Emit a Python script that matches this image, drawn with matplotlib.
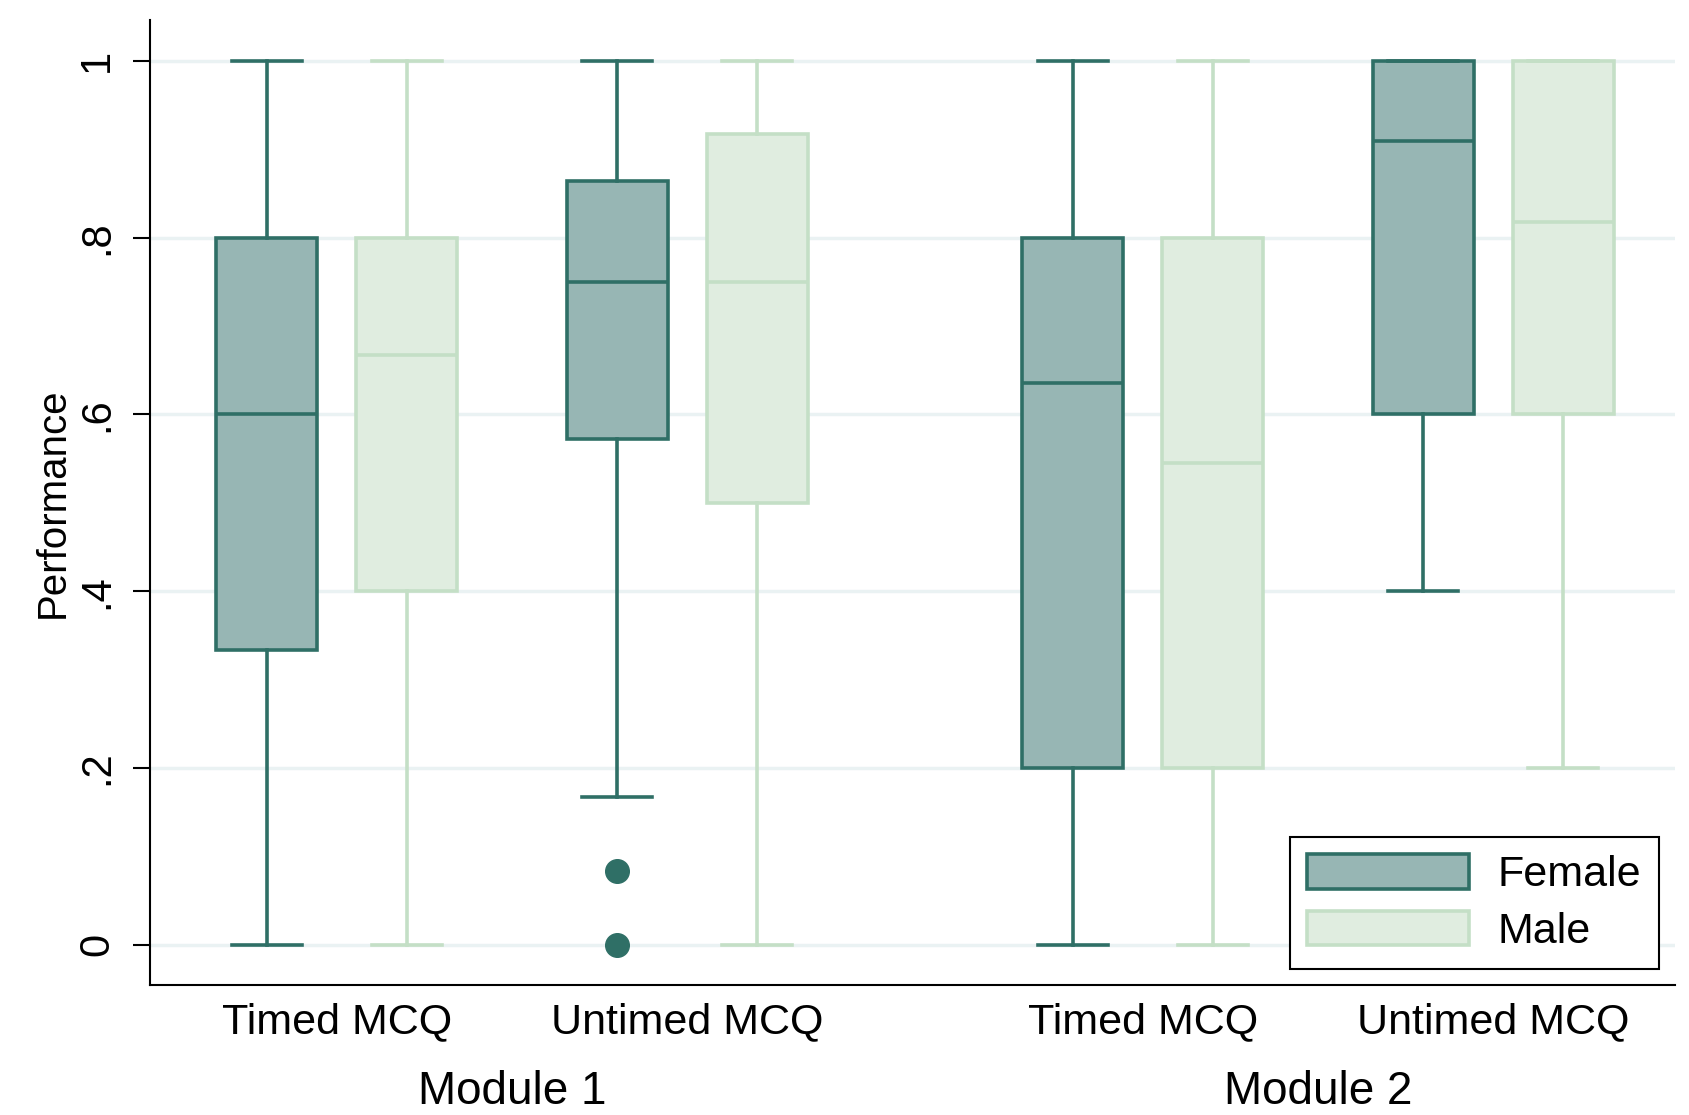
import numpy as np
import matplotlib.pyplot as plt
from matplotlib.patches import Patch

plt.rcParams['font.family'] = ['Liberation Sans', 'DejaVu Sans']

# box summaries, order: M1 timed, M1 untimed, M2 timed, M2 untimed
groups = ["Timed MCQ", "Untimed MCQ", "Timed MCQ", "Untimed MCQ"]
modules = ["Module 1", "Module 2"]

female_low = [0.0, 0.167, 0.0, 0.4]
female_q1 = [0.333, 0.572, 0.2, 0.6]
female_med = [0.6, 0.75, 0.636, 0.909]
female_q3 = [0.8, 0.864, 0.8, 1.0]
female_high = [1.0, 1.0, 1.0, 1.0]
female_out = [[], [0.083, 0.0], [], []]

male_low = [0.0, 0.0, 0.0, 0.2]
male_q1 = [0.4, 0.5, 0.2, 0.6]
male_med = [0.667, 0.75, 0.545, 0.818]
male_q3 = [0.8, 0.917, 0.8, 1.0]
male_high = [1.0, 1.0, 1.0, 1.0]
male_out = [[], [], [], []]

# colours
f_edge = "#2f6f66"
f_fill = "#97b6b4"
m_edge = "#c4dfc6"
m_fill = "#e0ede0"
grid_c = "#eaf2f3"

# x positions: pairs, with extra gap between modules
centers = np.array([0.5, 3.0, 6.25, 8.75])
f_pos = centers - 0.5
m_pos = centers + 0.5


def make_stats(low, q1, med, q3, high, out):
    return [dict(whislo=a, q1=b, med=c, q3=d, whishi=e, fliers=f)
            for a, b, c, d, e, f in zip(low, q1, med, q3, high, out)]


fig = plt.figure(figsize=(16.89, 11.15), dpi=100)
ax = fig.add_axes([0.089, 0.117, 0.903, 0.865])

for y in [0, 0.2, 0.4, 0.6, 0.8, 1.0]:
    ax.axhline(y, color=grid_c, linewidth=2.5, zorder=0)

for stats, pos, edge, fill in [
    (make_stats(female_low, female_q1, female_med, female_q3, female_high, female_out), f_pos, f_edge, f_fill),
    (make_stats(male_low, male_q1, male_med, male_q3, male_high, male_out), m_pos, m_edge, m_fill),
]:
    ax.bxp(stats, positions=pos, widths=0.72, capwidths=0.5,
           patch_artist=True, manage_ticks=False,
           boxprops=dict(facecolor=fill, edgecolor=edge, linewidth=2.6),
           medianprops=dict(color=edge, linewidth=2.6),
           whiskerprops=dict(color=edge, linewidth=2.6),
           capprops=dict(color=edge, linewidth=2.6),
           flierprops=dict(marker="o", markersize=17, markerfacecolor=edge,
                           markeredgecolor=edge))

ax.set_xlim(-0.83, 10.05)
ax.set_ylim(-0.045, 1.046)
ax.set_yticks([0, 0.2, 0.4, 0.6, 0.8, 1.0])
ax.set_yticklabels(["0", ".2", ".4", ".6", ".8", "1"], rotation=90, va="center",
                   fontsize=30)
ax.tick_params(axis="y", length=12, width=1.5, pad=12)
ax.set_xticks([])
ax.set_ylabel("Performance", fontsize=29, labelpad=4)

for s in ["top", "right"]:
    ax.spines[s].set_visible(False)
for s in ["left", "bottom"]:
    ax.spines[s].set_linewidth(1.5)

# category and module labels under the axis
for c, g in zip(centers, groups):
    ax.text(c, -0.088, g, ha="center", va="center", fontsize=31)
for i, m in enumerate(modules):
    mid = (centers[2 * i] + centers[2 * i + 1]) / 2
    ax.text(mid, -0.167, m, ha="center", va="center", fontsize=33)

handles = [Patch(facecolor=f_fill, edgecolor=f_edge, linewidth=2.6, label="Female"),
           Patch(facecolor=m_fill, edgecolor=m_edge, linewidth=2.6, label="Male")]
leg = ax.legend(handles=handles, loc="lower right", bbox_to_anchor=(0.989, 0.016),
                borderaxespad=0, fontsize=31, handlelength=3.75, handleheight=0.87,
                handletextpad=0.68, labelspacing=0.35, borderpad=0.4,
                fancybox=False, framealpha=1, edgecolor="black")
leg.get_frame().set_linewidth(1.5)

fig.savefig("out.png", dpi=100)
